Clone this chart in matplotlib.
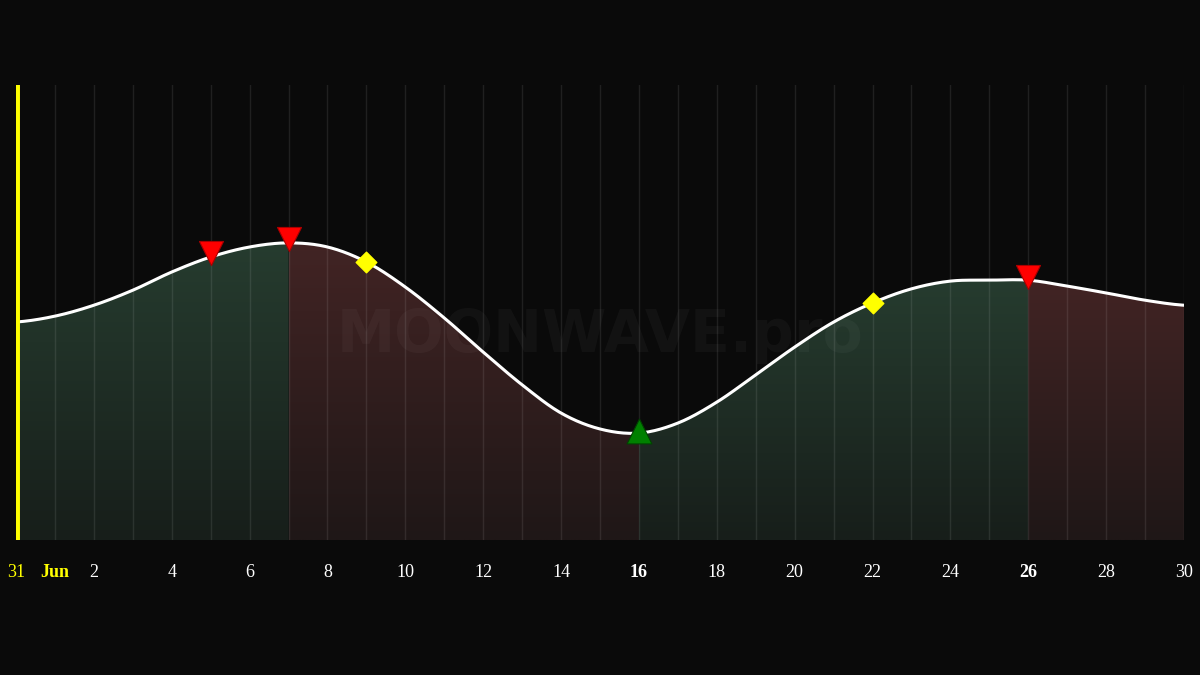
import matplotlib
matplotlib.use("Agg")
import matplotlib.pyplot as plt
import numpy as np
from matplotlib.colors import LinearSegmentedColormap

days = list(range(31))  # 0 = May 31, 1..30 = Jun 1..30
values = [47.9, 49.2, 51.6, 54.9, 58.9, 62.2, 64.4, 65.3, 64.4, 61.1, 55.6, 48.8,
          41.3, 34.1, 27.9, 24.4, 23.5, 25.7, 30.3, 36.3, 42.4, 47.9, 52.1, 55.2,
          56.9, 57.1, 57.1, 55.8, 54.3, 52.7, 51.6]
segments = [(0, 7, "green"), (7, 16, "red"), (16, 26, "green"), (26, 30, "red")]
red_down = [5, 7, 26]
yellow_diam = [9, 22]
green_up = [16]
tick_days = [0, 1] + list(range(2, 31, 2))
tick_labels = ["31", "Jun"] + [str(d) for d in range(2, 31, 2)]
bold_days = [16, 26]

def smooth(x, y, n=20):
    x = np.asarray(x, float); y = np.asarray(y, float)
    P = np.concatenate([[y[0]], y, [y[-1]]])
    xs, ys = [], []
    for i in range(len(x) - 1):
        t = np.linspace(0, 1, n, endpoint=False)
        p0, p1, p2, p3 = P[i], P[i+1], P[i+2], P[i+3]
        yy = 0.5*((2*p1) + (-p0+p2)*t + (2*p0-5*p1+4*p2-p3)*t**2 + (-p0+3*p1-3*p2+p3)*t**3)
        xs.append(x[i] + t*(x[i+1]-x[i])); ys.append(yy)
    xs.append([x[-1]]); ys.append([y[-1]])
    return np.concatenate(xs), np.concatenate(ys)

sx, sy = smooth(days, values)

bg = "#0a0a0a"
fig = plt.figure(figsize=(12, 6.75), dpi=100, facecolor=bg)
ax = fig.add_axes([16/1200, 0.2, 1168/1200, 455/675])
ax.set_facecolor(bg)
ax.set_xlim(0, 30)
ax.set_ylim(0, 100)

for d in range(1, 31):
    ax.axvline(d, color="#ffffff", alpha=0.09, lw=1, zorder=3)

cmaps = {
    "green": LinearSegmentedColormap.from_list("g", ["#171e1a", "#263c2f"]),
    "red": LinearSegmentedColormap.from_list("r", ["#1f1717", "#422424"]),
}
grad = np.linspace(0, 1, 256).reshape(-1, 1)
for a, b, c in segments:
    m = (sx >= a - 1e-9) & (sx <= b + 1e-9)
    poly = ax.fill_between(sx[m], 0, sy[m], color="none", lw=0)
    top = sy[m].max()
    im = ax.imshow(grad, aspect="auto", cmap=cmaps[c], origin="lower",
                   extent=[a, b, 0, top], zorder=2)
    im.set_clip_path(poly.get_paths()[0], transform=ax.transData)

ax.text(0.5, 0.45, "MOONWAVE.pro", transform=ax.transAxes, ha="center", va="center",
        fontsize=42, color="#ffffff", alpha=0.035, fontweight="bold", zorder=3.5)

ax.plot(sx, sy, color="white", lw=2.2, zorder=4)
ax.axvline(0, color="#ffff00", lw=5, zorder=5)

vals = dict(zip(days, values))
ax.scatter(red_down, [vals[d] + 0.8 for d in red_down], marker="v", s=300, color="#ff0000",
           edgecolor="#aa0000", lw=0.8, zorder=6)
ax.scatter(yellow_diam, [vals[d] for d in yellow_diam], marker="D", s=110, color="#ffff00", zorder=6)
ax.scatter(green_up, [vals[d] + 0.4 for d in green_up], marker="^", s=320, color="#008000",
           edgecolor="#004400", lw=0.8, zorder=6)

for s in ax.spines.values():
    s.set_visible(False)
ax.set_yticks([])
ax.set_xticks(tick_days)
ax.set_xticklabels(tick_labels, fontfamily="Liberation Serif", fontsize=13)
ax.tick_params(axis="x", length=0, pad=17)
for d, lab in zip(tick_days, ax.get_xticklabels()):
    lab.set_color("#ffff00" if d in (0, 1) else "white")
    if d == 1 or d in bold_days:
        lab.set_fontweight("bold")

fig.savefig("out.png", dpi=100, facecolor=bg)
